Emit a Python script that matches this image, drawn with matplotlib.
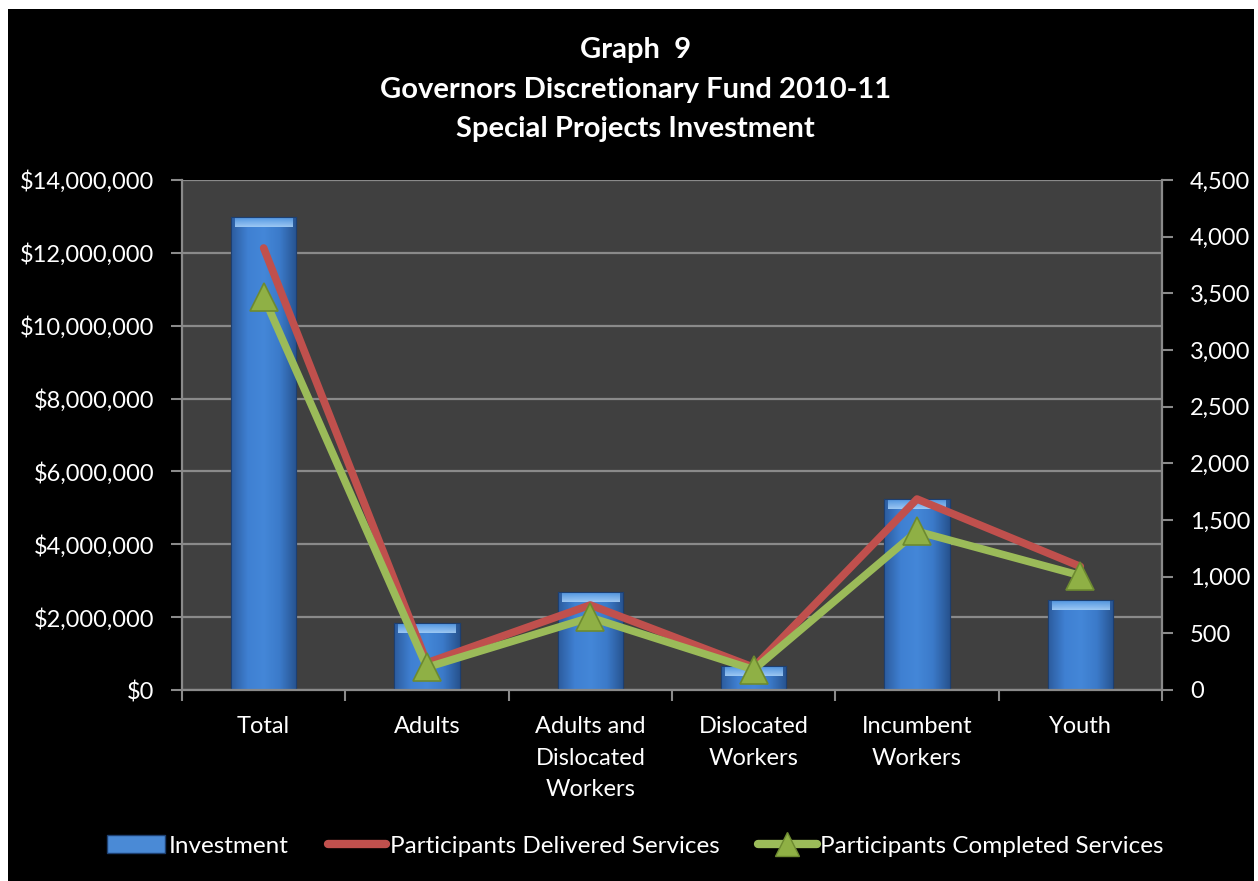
import matplotlib
matplotlib.use("Agg")
import matplotlib.pyplot as plt
import numpy as np
from matplotlib.patches import Patch, Rectangle
from matplotlib.lines import Line2D
from matplotlib.ticker import FuncFormatter, MultipleLocator
from matplotlib.colors import LinearSegmentedColormap

categories = ["Total", "Adults", "Adults and\nDislocated\nWorkers", "Dislocated\nWorkers",
              "Incumbent\nWorkers", "Youth"]
investment = [12980000, 1840000, 2690000, 660000, 5240000, 2470000]
delivered = [3900, 240, 750, 200, 1685, 1090]
completed = [3470, 200, 640, 180, 1400, 1010]
title_lines = ["Graph  9", "Governors Discretionary Fund 2010-11", "Special Projects Investment"]
legend_labels = ["Investment", "Participants Delivered Services", "Participants Completed Services"]

plt.rcParams['font.family'] = ['Lato', 'DejaVu Sans']

W, H = 1258, 881
fig = plt.figure(figsize=(W / 100, H / 100), dpi=100, facecolor='white')
fig.patches.append(Rectangle((8 / W, 0), (W - 8 - 4) / W, (H - 9) / H,
                             transform=fig.transFigure, facecolor='black',
                             edgecolor='none', zorder=-10))

ax = fig.add_axes([182 / W, (H - 690) / H, (1162 - 182) / W, (690 - 180) / H])
ax.set_facecolor('#404040')
x = np.arange(len(categories))
ax.set_xlim(-0.5, len(categories) - 0.5)
ax.set_ylim(0, 14000000)
ax.yaxis.set_major_locator(MultipleLocator(2000000))
ax.yaxis.set_major_formatter(FuncFormatter(lambda v, p: "${:,.0f}".format(v)))
ax.grid(axis='y', color='#8a8a8a', linewidth=1.6, zorder=0)
ax.set_axisbelow(True)

bars = ax.bar(x, investment, width=0.4, color='#3d7cce', edgecolor='#1d3f70',
              linewidth=0.8, zorder=2)
cmap = LinearSegmentedColormap.from_list('b', ['#2c5c9e', '#3f80d2', '#4487d8', '#3b7ac9', '#27538f'])
grad = np.linspace(0, 1, 64).reshape(1, -1)
top_cmap = LinearSegmentedColormap.from_list('t', ['#a6d0f8', '#5c9ee6'])
for b in bars:
    x0, y0 = b.get_x(), b.get_y()
    w, h = b.get_width(), b.get_height()
    im = ax.imshow(grad, cmap=cmap, extent=[x0, x0 + w, y0, y0 + h], aspect='auto', zorder=2.1)
    im.set_clip_path(b)
    band = 14000000 * 10 / 510
    im2 = ax.imshow(np.linspace(1, 0, 16).reshape(-1, 1), cmap=top_cmap,
                    extent=[x0 + w * 0.06, x0 + w * 0.94, y0 + h - band, y0 + h - band * 0.15],
                    aspect='auto', zorder=2.2, alpha=0.9)
    im2.set_clip_path(b)
    ax.add_patch(Rectangle((x0, y0), w, h, facecolor='none', edgecolor='#1d3f70', linewidth=0.8, zorder=2.3))

ax.set_xticks(x)
ax.set_xticklabels(categories, color='white', fontsize=17, linespacing=1.62)
ax.set_xticks(np.arange(len(categories) + 1) - 0.5, minor=True)
ax.tick_params(axis='x', which='major', length=0, pad=19)
ax.tick_params(axis='x', which='minor', length=8, width=1.5, color='#8a8a8a')
ax.tick_params(axis='y', colors='white', labelsize=17, length=8, width=1.5, pad=12)
ax.tick_params(axis='y', color='#8a8a8a')
for s in ['left', 'bottom', 'right']:
    ax.spines[s].set_color('#8a8a8a')
    ax.spines[s].set_linewidth(1.6)
ax.spines['top'].set_visible(False)

ax2 = ax.twinx()
ax2.set_ylim(0, 4500)
ax2.yaxis.set_major_locator(MultipleLocator(500))
ax2.yaxis.set_major_formatter(FuncFormatter(lambda v, p: "{:,.0f}".format(v)))
ax2.tick_params(axis='y', colors='white', labelsize=17, length=8, width=1.5, pad=12)
ax2.tick_params(axis='y', color='#8a8a8a')
for s in ['left', 'bottom', 'right', 'top']:
    ax2.spines[s].set_visible(False)
ax2.plot(x, delivered, color='#c0504d', linewidth=5.5, solid_capstyle='round', zorder=3)
ax2.plot(x, completed, color='#9bbb59', linewidth=5.5, solid_capstyle='round', zorder=4,
         marker='^', markersize=20, markerfacecolor='#8fb045', markeredgecolor='#6d8a30',
         markeredgewidth=1.2)

ty = [(H - 50) / H, (H - 90) / H, (H - 129) / H]
for t, yy in zip(title_lines, ty):
    fig.text(0.505, yy, t, ha='center', va='center', color='white', fontsize=21, fontweight='bold')

handles = [Patch(facecolor='#4a8ad6', edgecolor='#1d3f70'),
           Line2D([0], [0], color='#c0504d', linewidth=6, solid_capstyle='round'),
           Line2D([0], [0], color='#9bbb59', linewidth=6, solid_capstyle='round',
                  marker='^', markersize=17, markerfacecolor='#8fb045', markeredgecolor='#6d8a30')]
leg = fig.legend(handles, legend_labels, loc='center', bbox_to_anchor=(0.505, (H - 846) / H),
                 ncol=3, frameon=False, fontsize=17.5, handlelength=2.4, handletextpad=0.15,
                 columnspacing=1.6)
for t in leg.get_texts():
    t.set_color('white')

fig.savefig('out.png', dpi=100, facecolor=fig.get_facecolor())
